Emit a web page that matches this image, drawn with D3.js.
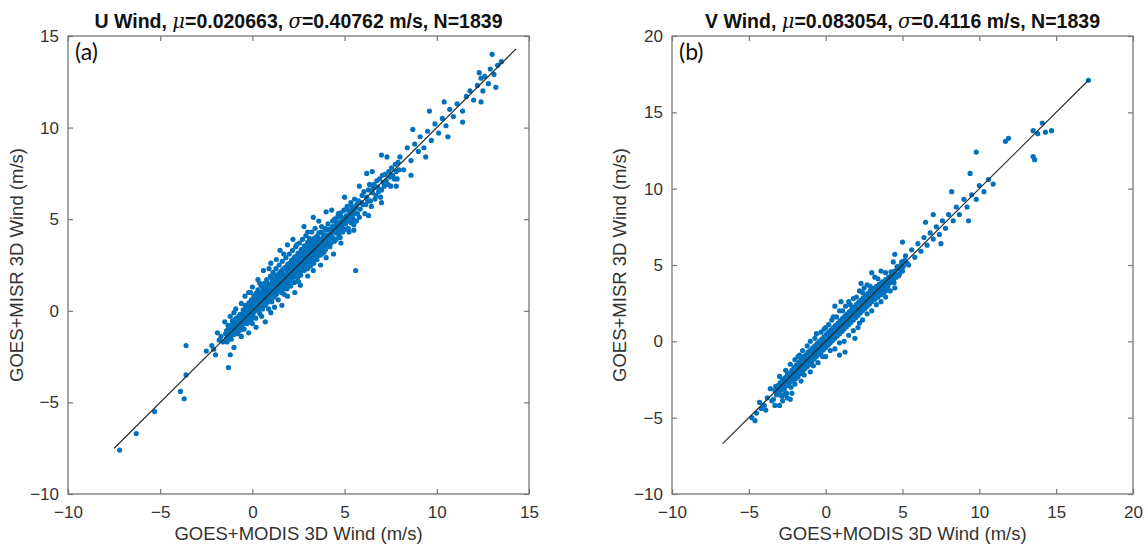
<!DOCTYPE html>
<html><head><meta charset="utf-8">
<script src="https://cdn.jsdelivr.net/npm/d3@7"></script>
<style>body{margin:0;background:#fff}svg{display:block}</style>
</head><body>
<svg id="c" width="1148" height="547"></svg>
<script>
// ---------- data ----------
const uTitle = ["U Wind, ", "μ", "=0.020663, ", "σ", "=0.40762 m/s, N=1839"];
const vTitle = ["V Wind, ", "μ", "=0.083054, ", "σ", "=0.4116 m/s, N=1839"];
const uDomain = [-10, 15];
const vDomain = [-10, 20];
const uTicks = [-10, -5, 0, 5, 10, 15];
const vTicks = [-10, -5, 0, 5, 10, 15, 20];
const xLabel = "GOES+MODIS 3D Wind (m/s)";
const yLabel = "GOES+MISR 3D Wind (m/s)";
const uLine = [[-7.5, -7.5], [14.3, 14.3]];
const vLine = [[-6.7, -6.7], [17.1, 17.1]];

const uPoints = [
[-1.45,-1.25],[-1.4,-1.5],[-1.35,-1.05],[-1.3,-1.35],[-1.25,-0.9],[-1.2,-1.2],[-1.15,-1.55],[-1.1,-0.75],[-1.05,-1.0],[-1.0,-1.3],[-0.95,-0.6],[-0.9,-0.85],[-0.88,-1.1],[-0.85,-0.4],[-0.8,-0.7],[-0.78,-1.25],[-0.72,-0.5],[-0.7,-0.95],[-0.66,-0.2],[-0.6,-0.6],[-0.58,-0.8],[-0.55,-0.35],[-0.5,0.05],[-0.48,-0.55],[-0.45,-1.0],[-0.4,-0.25],[-0.38,0.3],[-0.35,-0.45],[-0.3,-0.05],[-0.28,-0.7],[-0.25,0.15],[-0.2,-0.3],[-0.18,0.45],[-0.15,-0.1],[-0.1,0.25],[-0.08,-0.5],[-0.05,0.6],[0.0,0.05],[0.02,-0.2],[0.05,0.35],[0.08,0.8],[0.1,-0.05],[0.12,0.5],[0.15,0.15],[0.18,-0.4],[0.2,0.95],[0.22,0.3],[0.25,0.6],[0.28,0.05],[0.3,1.15],[0.32,0.45],[0.35,0.8],[0.38,0.2],[0.4,-0.15],[0.42,1.0],[0.45,0.55],[0.48,1.35],[0.5,0.35],[0.52,0.75],[0.55,0.1],[0.58,1.15],[0.6,0.5],[0.62,0.9],[0.65,1.5],[0.68,0.65],[0.7,0.3],[0.72,1.1],[0.75,0.8],[0.78,1.7],[0.8,0.45],[0.82,1.25],[0.85,0.95],[0.88,0.1],[0.9,1.45],[0.92,0.7],[0.95,1.1],[0.98,1.9],[1.0,0.85],[1.02,1.3],[1.05,0.5],[1.08,1.6],[1.1,1.0],[1.12,2.1],[1.15,1.25],[1.18,0.75],[1.2,1.75],[1.22,1.45],[1.25,1.1],[1.28,2.3],[1.3,0.9],[1.32,1.6],[1.35,1.3],[1.38,1.95],[1.4,0.6],[1.42,1.5],[1.45,2.5],[1.48,1.15],[1.5,1.8],[1.52,1.4],[1.55,2.15],[1.58,1.0],[1.6,1.65],[1.62,2.7],[1.65,1.35],[1.68,2.0],[1.7,1.7],[1.72,0.9],[1.75,2.35],[1.78,1.5],[1.8,1.95],[1.82,2.9],[1.85,1.75],[1.88,1.2],[1.9,2.2],[1.92,2.55],[1.95,1.6],[1.98,2.05],[2.0,3.1],[2.02,1.85],[2.05,2.4],[2.08,1.35],[2.1,2.15],[2.12,2.75],[2.15,1.8],[2.18,3.3],[2.2,2.3],[2.22,2.0],[2.25,2.6],[2.28,1.55],[2.3,2.95],[2.32,2.25],[2.35,3.5],[2.38,2.05],[2.4,2.5],[2.42,2.8],[2.45,1.8],[2.48,3.15],[2.5,2.4],[2.52,2.65],[2.55,3.7],[2.58,2.2],[2.6,2.9],[2.62,1.95],[2.65,3.35],[2.68,2.6],[2.7,2.85],[2.72,3.9],[2.75,2.4],[2.78,3.1],[2.8,2.2],[2.82,3.55],[2.85,2.75],[2.88,3.0],[2.9,4.1],[2.92,2.5],[2.95,3.3],[2.98,2.3],[3.0,3.75],[3.02,2.95],[3.05,3.2],[3.08,2.65],[3.1,3.95],[3.12,3.45],[3.15,2.45],[3.18,3.1],[3.2,3.7],[3.22,4.3],[3.25,2.9],[3.28,3.4],[3.3,3.9],[3.32,2.6],[3.35,3.25],[3.38,3.65],[3.4,4.5],[3.42,3.05],[3.45,3.5],[3.48,4.05],[3.5,2.8],[3.55,3.7],[3.58,3.3],[3.6,4.25],[3.65,3.55],[3.68,3.05],[3.7,3.9],[3.75,4.6],[3.78,3.4],[3.8,3.75],[3.85,4.15],[3.88,3.2],[3.9,4.0],[3.95,3.6],[4.0,4.4],[4.05,3.85],[4.1,4.75],[4.15,4.1],[4.2,3.5],[4.25,4.45],[4.3,4.0],[4.35,4.9],[4.4,4.3],[4.45,3.8],[4.5,4.6],[4.55,4.25],[4.6,5.1],[4.65,4.5],[4.7,4.1],[4.75,4.85],[4.8,5.35],[4.85,4.6],[4.9,4.3],[4.95,5.0],[5.0,5.5],[5.05,4.75],[5.1,5.2],[5.2,4.5],[5.25,5.45],[5.3,5.0],[5.4,5.7],[5.45,5.25],[5.5,4.7],[5.6,5.6],[5.7,5.3],[5.75,6.0],[5.85,5.55],[5.95,6.3],[6.0,5.8],[6.1,5.3],[6.2,6.2],[6.3,6.6],[6.4,6.0],[6.5,6.45],[6.6,6.9],[6.7,6.3],[6.8,6.75],[6.9,7.2],[7.0,6.6],[7.1,7.0],[7.2,7.45],[7.35,6.9],[7.45,7.3],[7.55,7.8],[7.7,7.2],[7.8,7.6],[7.9,8.1],
[-1.4,-1.1],[-1.38,-1.7],[-1.32,-0.8],[-1.22,-1.42],[-1.18,-0.95],[-1.12,-1.25],[-1.08,-0.55],[-1.02,-0.85],[-0.98,-1.15],[-0.92,-0.45],[-0.86,-0.95],[-0.82,-0.55],[-0.76,-0.85],[-0.74,-0.3],[-0.68,-0.7],[-0.64,-1.05],[-0.62,-0.4],[-0.56,-0.6],[-0.52,-0.15],[-0.46,-0.35],[-0.42,-0.7],[-0.36,0.1],[-0.32,-0.3],[-0.26,-0.5],[-0.22,0.3],[-0.16,0.05],[-0.12,-0.25],[-0.06,0.4],[-0.02,0.2],[0.04,-0.35],[0.06,0.6],[0.14,0.3],[0.16,0.7],[0.24,0.1],[0.26,0.45],[0.34,0.95],[0.36,0.3],[0.44,0.75],[0.46,0.15],[0.54,0.95],[0.56,0.55],[0.64,0.35],[0.66,1.25],[0.74,0.6],[0.76,1.0],[0.84,1.45],[0.86,0.55],[0.94,0.9],[0.96,1.3],[1.04,1.1],[1.06,1.75],[1.14,0.9],[1.16,1.5],[1.24,1.3],[1.26,1.95],[1.34,1.1],[1.36,1.7],[1.44,1.35],[1.46,2.05],[1.54,1.25],[1.56,1.65],[1.64,2.25],[1.66,1.55],[1.74,1.2],[1.76,1.9],[1.84,2.4],[1.86,1.45],[1.94,2.3],[1.96,1.85],[2.04,1.6],[2.06,2.6],[2.14,2.0],[2.16,2.45],[2.24,2.85],[2.26,1.85],[2.34,2.5],[2.36,2.1],[2.44,3.0],[2.46,2.3],[2.54,2.85],[2.56,2.1],[2.64,3.1],[2.66,2.35],[2.74,2.65],[2.76,3.3],[2.84,2.3],[2.86,3.2],[2.94,2.7],[2.96,3.55],[3.04,2.4],[3.06,3.45],[3.14,2.85],[3.16,3.65],[3.24,3.2],[3.26,2.7],[3.34,3.95],[3.36,3.0],[3.44,3.8],[3.46,3.25],[3.54,3.0],[3.56,4.0],[3.64,3.8],[3.66,3.3],[3.74,4.3],[3.76,3.1],[3.84,3.5],[3.86,3.95],[3.94,4.5],[3.96,3.35],[4.04,4.1],[4.06,3.6],[4.14,4.45],[4.16,3.8],[4.24,4.2],[4.26,3.7],[4.34,4.6],[4.36,4.0],[4.44,4.45],[4.46,5.0],[4.54,3.9],[4.56,4.8],[4.64,4.3],[4.66,5.3],[4.74,4.6],[4.76,4.0],[4.84,5.1],[4.86,4.4],[4.94,4.75],[4.96,5.5],[5.04,4.45],[5.06,5.0],[5.14,5.7],[5.16,4.9],[5.24,4.3],[5.26,5.2],[5.34,5.9],[5.36,4.8],[5.44,5.5],[5.46,5.0],[5.54,6.1],[5.56,5.3],[5.64,4.9],[5.66,5.8],[5.8,5.1],[5.9,5.9],[6.05,6.5],[6.15,5.8],[6.25,6.0],[6.35,6.9],[6.45,5.7],[6.55,6.7],[6.65,6.1],[6.75,7.1],[6.85,6.5],[6.95,6.2],[7.05,7.4],[7.15,6.8],[7.25,7.1],[7.4,7.6],[7.5,6.8],[7.6,7.4],[7.75,8.0],[7.85,7.2],[7.95,7.7],
[-1.5,-0.6],[-1.0,-0.1],[-0.6,0.4],[-0.1,1.0],[0.4,1.5],[0.9,2.3],[1.3,2.8],[1.7,3.1],[2.4,3.6],[3.0,4.3],[3.6,4.9],[4.3,5.5],[5.0,6.2],[5.8,6.8],[6.5,7.6],[7.3,8.4],
[-0.6,-1.4],[0.0,-0.7],[0.5,-0.3],[1.2,0.2],[1.9,0.8],[2.5,1.6],[3.3,2.2],[4.0,2.9],[4.8,3.7],[5.5,4.4],[6.3,5.2],[7.0,5.9],[7.8,6.8],[8.6,7.4],[9.4,8.4],[10.6,9.5],[11.4,10.3],[12.4,11.4],
[8.7,9.9],[9.6,10.9],[10.4,11.4],[12.4,12.7],[12.8,12.4],[7.0,8.5],[6.2,7.5],
[-0.9,0.1],[-0.4,0.8],[0.3,1.7],[0.6,2.2],[1.0,2.6],[1.5,3.3],[-1.2,-0.3],[2.2,3.9],[2.8,4.6],[3.3,5.1],[0.0,1.3],[-0.2,1.0],[1.9,3.6],[4.0,5.4],
[0.2,-0.9],[1.0,-0.1],[1.6,0.3],[2.3,1.0],[3.0,1.9],[3.7,2.5],[4.4,3.1],[5.6,2.2],[-0.2,-1.2],[0.7,-0.6],[-1.0,-2.0],[-1.3,-3.1],[-1.2,-2.4],[2.6,1.4],
[-2.2,-1.9],[-2.1,-2.1],[-2.0,-2.4],[-1.8,-1.6],[-1.7,-1.4],[-1.6,-1.7],[-1.9,-1.2],[-3.6,-1.9],[-3.6,-3.5],[-3.9,-4.4],[-3.7,-4.8],[-5.3,-5.5],[-6.3,-6.7],[-7.2,-7.6],[-2.5,-2.2],
[8.0,8.4],[8.2,7.7],[8.4,8.9],[8.6,8.2],[8.8,9.1],[9.0,8.7],[9.1,9.5],[9.3,8.9],[9.5,9.8],[9.7,9.3],[9.9,10.2],[10.1,9.7],[10.3,10.5],[10.5,10.1],[10.7,11.0],[10.9,10.6],[11.1,11.3],[11.4,10.9],[11.6,11.7],[11.8,12.0],[12.0,11.5],[12.2,12.3],[12.5,12.0],[12.6,12.8],[12.9,13.2],[13.1,12.9],[13.3,13.4],[13.0,14.0],[13.5,13.6],[12.3,13.0],[13.2,12.2]
];

const vPoints = [
[-3.3,-3.2],[-3.2,-3.5],[-3.1,-2.9],[-3.0,-3.3],[-2.95,-2.7],[-2.9,-3.0],[-2.85,-3.6],[-2.8,-2.5],[-2.75,-2.85],[-2.7,-3.2],[-2.65,-2.4],[-2.6,-2.7],[-2.55,-3.4],[-2.5,-2.2],[-2.45,-2.55],[-2.4,-2.9],[-2.35,-2.1],[-2.3,-2.4],[-2.25,-3.0],[-2.2,-1.9],[-2.15,-2.25],[-2.1,-2.6],[-2.05,-1.7],[-2.0,-2.05],[-1.95,-2.45],[-1.9,-1.55],[-1.85,-1.9],[-1.8,-2.3],[-1.75,-1.4],[-1.7,-1.75],[-1.65,-2.1],[-1.6,-1.2],[-1.55,-1.6],[-1.5,-1.95],[-1.45,-1.0],[-1.4,-1.45],[-1.35,-1.8],[-1.3,-0.9],[-1.25,-1.3],[-1.2,-1.65],[-1.15,-0.7],[-1.1,-1.1],[-1.05,-1.5],[-1.0,-0.6],[-0.95,-0.95],[-0.9,-1.3],[-0.85,-0.45],[-0.8,-0.8],[-0.75,-1.15],[-0.7,-0.3],[-0.65,-0.65],[-0.6,-1.0],[-0.55,-0.15],[-0.5,-0.5],[-0.45,-0.85],[-0.4,0.0],[-0.35,-0.35],[-0.3,-0.7],[-0.25,0.15],[-0.2,-0.2],[-0.15,-0.55],[-0.1,0.3],[-0.05,-0.05],[0.0,-0.4],[0.05,0.45],[0.1,0.1],[0.15,-0.25],[0.2,0.6],[0.25,0.25],[0.3,-0.1],[0.35,0.75],[0.4,0.4],[0.45,0.05],[0.5,0.9],[0.55,0.55],[0.6,0.2],[0.65,1.05],[0.7,0.7],[0.75,0.35],[0.8,1.2],[0.85,0.85],[0.9,0.5],[0.95,1.35],[1.0,1.0],[1.05,0.65],[1.1,1.5],[1.15,1.15],[1.2,0.8],[1.25,1.65],[1.3,1.3],[1.35,0.95],[1.4,1.8],[1.45,1.45],[1.5,1.1],[1.55,1.95],[1.6,1.6],[1.65,1.25],[1.7,2.1],[1.75,1.75],[1.8,1.4],[1.85,2.25],[1.9,1.9],[1.95,1.55],[2.0,2.4],[2.05,2.05],[2.1,1.7],[2.15,2.55],[2.2,2.2],[2.25,1.85],[2.3,2.7],[2.35,2.35],[2.4,2.0],[2.45,2.85],[2.5,2.5],[2.55,2.15],[2.6,3.0],[2.65,2.65],[2.7,2.3],[2.75,3.15],[2.8,2.8],[2.85,2.45],[2.9,3.3],[2.95,2.95],[3.0,2.6],[3.1,3.45],[3.15,3.1],[3.2,2.75],[3.3,3.6],[3.35,3.25],[3.4,2.9],[3.5,3.75],[3.55,3.4],[3.6,3.05],[3.7,3.9],[3.75,3.55],[3.8,3.2],[3.9,4.05],[3.95,3.7],[4.0,3.35],[4.1,4.2],[4.2,3.85],[4.3,4.4],[4.4,4.0],[4.5,4.6],[4.6,4.2],[4.7,4.75],[4.8,4.4],[4.9,5.0],[5.0,4.6],
[-3.25,-2.95],[-3.15,-3.35],[-3.05,-3.05],[-2.98,-3.5],[-2.92,-2.85],[-2.82,-3.15],[-2.78,-2.7],[-2.72,-3.0],[-2.68,-2.55],[-2.62,-2.95],[-2.58,-2.5],[-2.52,-2.85],[-2.48,-2.4],[-2.42,-2.7],[-2.38,-2.3],[-2.32,-2.65],[-2.28,-2.2],[-2.22,-2.5],[-2.18,-2.1],[-2.12,-2.4],[-2.08,-1.95],[-2.02,-2.3],[-1.98,-1.85],[-1.92,-2.15],[-1.88,-1.7],[-1.82,-2.0],[-1.78,-1.6],[-1.72,-1.95],[-1.68,-1.5],[-1.62,-1.85],[-1.58,-1.4],[-1.52,-1.75],[-1.48,-1.3],[-1.42,-1.6],[-1.38,-1.2],[-1.32,-1.55],[-1.28,-1.1],[-1.22,-1.4],[-1.18,-1.0],[-1.12,-1.3],[-1.08,-0.85],[-1.02,-1.2],[-0.98,-0.8],[-0.92,-1.1],[-0.88,-0.65],[-0.82,-1.0],[-0.78,-0.6],[-0.72,-0.9],[-0.68,-0.5],[-0.62,-0.8],[-0.58,-0.4],[-0.52,-0.7],[-0.48,-0.3],[-0.42,-0.6],[-0.38,-0.2],[-0.32,-0.5],[-0.28,-0.1],[-0.22,-0.4],[-0.18,0.0],[-0.12,-0.3],[-0.08,0.1],[-0.02,-0.2],[0.02,0.2],[0.08,-0.1],[0.12,0.3],[0.18,0.0],[0.22,0.4],[0.28,0.1],[0.32,0.5],[0.38,0.2],[0.42,0.6],[0.48,0.3],[0.52,0.7],[0.58,0.4],[0.62,0.8],[0.68,0.5],[0.72,0.9],[0.78,0.6],[0.82,1.0],[0.88,0.7],[0.92,1.1],[0.98,0.8],[1.02,1.2],[1.08,0.9],[1.12,1.3],[1.18,1.0],[1.22,1.4],[1.28,1.1],[1.32,1.5],[1.38,1.2],[1.42,1.6],[1.48,1.3],[1.52,1.7],[1.58,1.4],[1.62,1.8],[1.68,1.5],[1.72,1.9],[1.78,1.6],[1.82,2.0],[1.88,1.7],[1.92,2.1],[1.98,1.8],[2.02,2.2],[2.08,1.9],[2.12,2.3],[2.18,2.0],[2.22,2.4],[2.28,2.1],[2.32,2.5],[2.38,2.2],[2.42,2.6],[2.48,2.3],[2.52,2.7],[2.58,2.4],[2.62,2.8],[2.68,2.5],[2.72,2.9],[2.78,2.6],[2.82,3.0],[2.88,2.7],[2.92,3.1],[2.98,2.8],[3.05,3.2],[3.12,2.85],[3.22,3.35],[3.28,3.0],[3.38,3.5],[3.45,3.15],[3.58,3.65],[3.65,3.3],[3.78,3.8],[3.85,3.45],[3.98,4.0],[4.05,3.6],[4.15,4.0],[4.25,4.55],[4.35,4.15],[4.45,3.85],[4.55,4.4],[4.65,4.9],[4.75,4.3],[4.85,4.7],[4.95,5.2],[5.05,4.9],[5.15,5.3],[5.3,5.1],
[-3.0,-2.3],[-2.3,-1.5],[-1.7,-0.9],[-1.2,-0.3],[-0.7,0.2],[-0.3,0.6],[0.2,1.1],[0.7,1.6],[1.1,2.0],[1.6,2.4],[2.0,2.9],[2.4,3.2],[2.9,3.6],[3.4,4.1],[3.9,4.5],[4.4,5.2],[1.0,2.6],[2.3,3.8],[3.0,4.5],
[-3.4,-3.8],[-2.7,-3.5],[-2.0,-2.8],[-1.4,-2.2],[-0.8,-1.6],[-0.2,-1.0],[0.3,-0.6],[0.9,-0.1],[1.5,0.4],[2.2,1.2],[2.7,1.8],[3.3,2.4],[3.9,2.9],[4.5,3.5],[-2.3,-3.8],[0.9,-0.9],[1.9,0.2],
[-2.6,-1.9],[-2.0,-1.2],[-1.5,-0.6],[-1.0,0.0],[-0.6,0.5],[0.0,0.9],[0.4,1.4],[0.9,2.0],[1.3,2.3],[1.8,2.8],[2.2,3.3],[2.7,3.7],[3.2,4.2],[3.6,4.6],[0.5,1.6],[-0.1,0.8],[1.5,2.6],[2.5,3.5],[-1.8,-1.0],[0.6,2.3],
[1.26,-0.7],[-2.8,-3.9],[-2.2,-3.4],[-1.6,-2.6],[-1.0,-2.0],[-0.5,-1.4],[0.0,-1.0],[0.6,-0.5],[1.2,0.0],[1.8,0.7],[2.4,1.4],[3.0,2.0],[3.6,2.6],[4.2,3.3],[2.1,0.9],[-3.5,-3.9],[-3.8,-3.7],[-3.6,-3.1],[-4.0,-4.2],[-3.3,-4.2],[-2.5,-3.7],[-3.0,-4.2],
[-4.2,-4.4],[-4.5,-4.7],[-4.8,-5.0],[-4.6,-5.2],[-4.3,-4.0],[-3.9,-4.5],
[5.2,5.6],[5.4,5.0],[5.6,6.0],[5.8,5.5],[6.0,6.4],[6.2,5.9],[6.4,6.8],[6.6,6.3],[6.8,7.1],[7.0,6.7],[7.2,7.5],[7.4,7.0],[7.6,7.9],[7.8,7.4],[8.0,8.3],[8.3,7.9],[8.5,8.8],[8.7,8.3],[9.0,9.3],[9.2,8.8],[9.5,9.6],[9.8,9.3],[10.0,10.2],[10.3,9.8],[10.6,10.6],[9.4,11.0],[9.8,12.4],[11.7,13.1],[11.9,13.3],[10.9,10.3],[13.5,12.1],[13.6,11.9],[13.5,13.8],[13.8,13.6],[14.1,14.3],[14.7,13.8],[14.3,13.7],[17.1,17.1],[7.0,8.3],[6.5,7.8],[8.2,9.8],[4.5,5.7],[5.0,6.5],[7.5,6.4],[9.3,7.9]
];

// ---------- drawing ----------
const svg = d3.select("#c");
const FONT = "'Liberation Sans', Arial, Helvetica, sans-serif";

function panel(opt) {
  const {left, right, top, bottom, domain, ticks, points, line, title, tag, ylabX} = opt;
  const x = d3.scaleLinear().domain(domain).range([left, right]);
  const y = d3.scaleLinear().domain(domain).range([bottom, top]);
  const g = svg.append("g");

  // points
  g.append("g").selectAll("circle").data(points).join("circle")
    .attr("cx", d => x(d[0])).attr("cy", d => y(d[1])).attr("r", 2.6)
    .attr("fill", "#0072BD");

  // 1:1 line
  g.append("line")
    .attr("x1", x(line[0][0])).attr("y1", y(line[0][1]))
    .attr("x2", x(line[1][0])).attr("y2", y(line[1][1]))
    .attr("stroke", "#2a2a2a").attr("stroke-width", 1.2);

  const tl = 5;
  const axStyle = a => a.call(s => s.select(".domain").remove())
    .call(s => s.selectAll(".tick line").attr("stroke", "#777").attr("stroke-width", 1.2))
    .call(s => s.selectAll(".tick text").attr("fill", "#333").attr("font-family", FONT).attr("font-size", 17));

  g.append("g").attr("transform", `translate(0,${bottom})`)
    .call(d3.axisBottom(x).tickValues(ticks).tickSize(-tl).tickPadding(12).tickFormat(d3.format("d")))
    .call(axStyle);
  g.append("g").attr("transform", `translate(0,${top})`)
    .call(d3.axisTop(x).tickValues(ticks).tickSize(-tl).tickFormat(""))
    .call(axStyle);
  g.append("g").attr("transform", `translate(${left},0)`)
    .call(d3.axisLeft(y).tickValues(ticks).tickSize(-tl).tickPadding(9).tickFormat(d3.format("d")))
    .call(axStyle);
  g.append("g").attr("transform", `translate(${right},0)`)
    .call(d3.axisRight(y).tickValues(ticks).tickSize(-tl).tickFormat(""))
    .call(axStyle);

  // box
  g.append("rect").attr("x", left).attr("y", top).attr("width", right - left).attr("height", bottom - top)
    .attr("fill", "none").attr("stroke", "#777").attr("stroke-width", 1.3);

  // title
  const t = g.append("text").attr("x", (left + right) / 2).attr("y", 28)
    .attr("text-anchor", "middle").attr("font-family", FONT).attr("font-size", 19.5)
    .attr("font-weight", "bold").attr("fill", "#111");
  title.forEach((s, i) => {
    const ts = t.append("tspan").text(s);
    if (i === 1 || i === 3) ts.attr("font-style", "italic").attr("font-weight", "normal").attr("font-family", "'DejaVu Serif', serif");
  });

  // axis labels
  g.append("text").attr("x", (left + right) / 2).attr("y", bottom + 46)
    .attr("text-anchor", "middle").attr("font-family", FONT).attr("font-size", 18.5).attr("fill", "#333")
    .text(xLabel);
  g.append("text").attr("transform", `translate(${ylabX},${(top + bottom) / 2}) rotate(-90)`)
    .attr("text-anchor", "middle").attr("font-family", FONT).attr("font-size", 18.5).attr("fill", "#333")
    .text(yLabel);

  // panel tag
  g.append("text").attr("x", left + 7).attr("y", top + 24)
    .attr("font-family", "Lato, 'Open Sans', sans-serif").attr("font-size", 23).attr("fill", "#111")
    .text(tag);
}

panel({left: 68, right: 529, top: 36, bottom: 494, domain: uDomain, ticks: uTicks,
       points: uPoints, line: uLine, title: uTitle, tag: "(a)", ylabX: 23});
panel({left: 672, right: 1133, top: 36, bottom: 494, domain: vDomain, ticks: vTicks,
       points: vPoints, line: vLine, title: vTitle, tag: "(b)", ylabX: 626});
</script>
</body></html>
